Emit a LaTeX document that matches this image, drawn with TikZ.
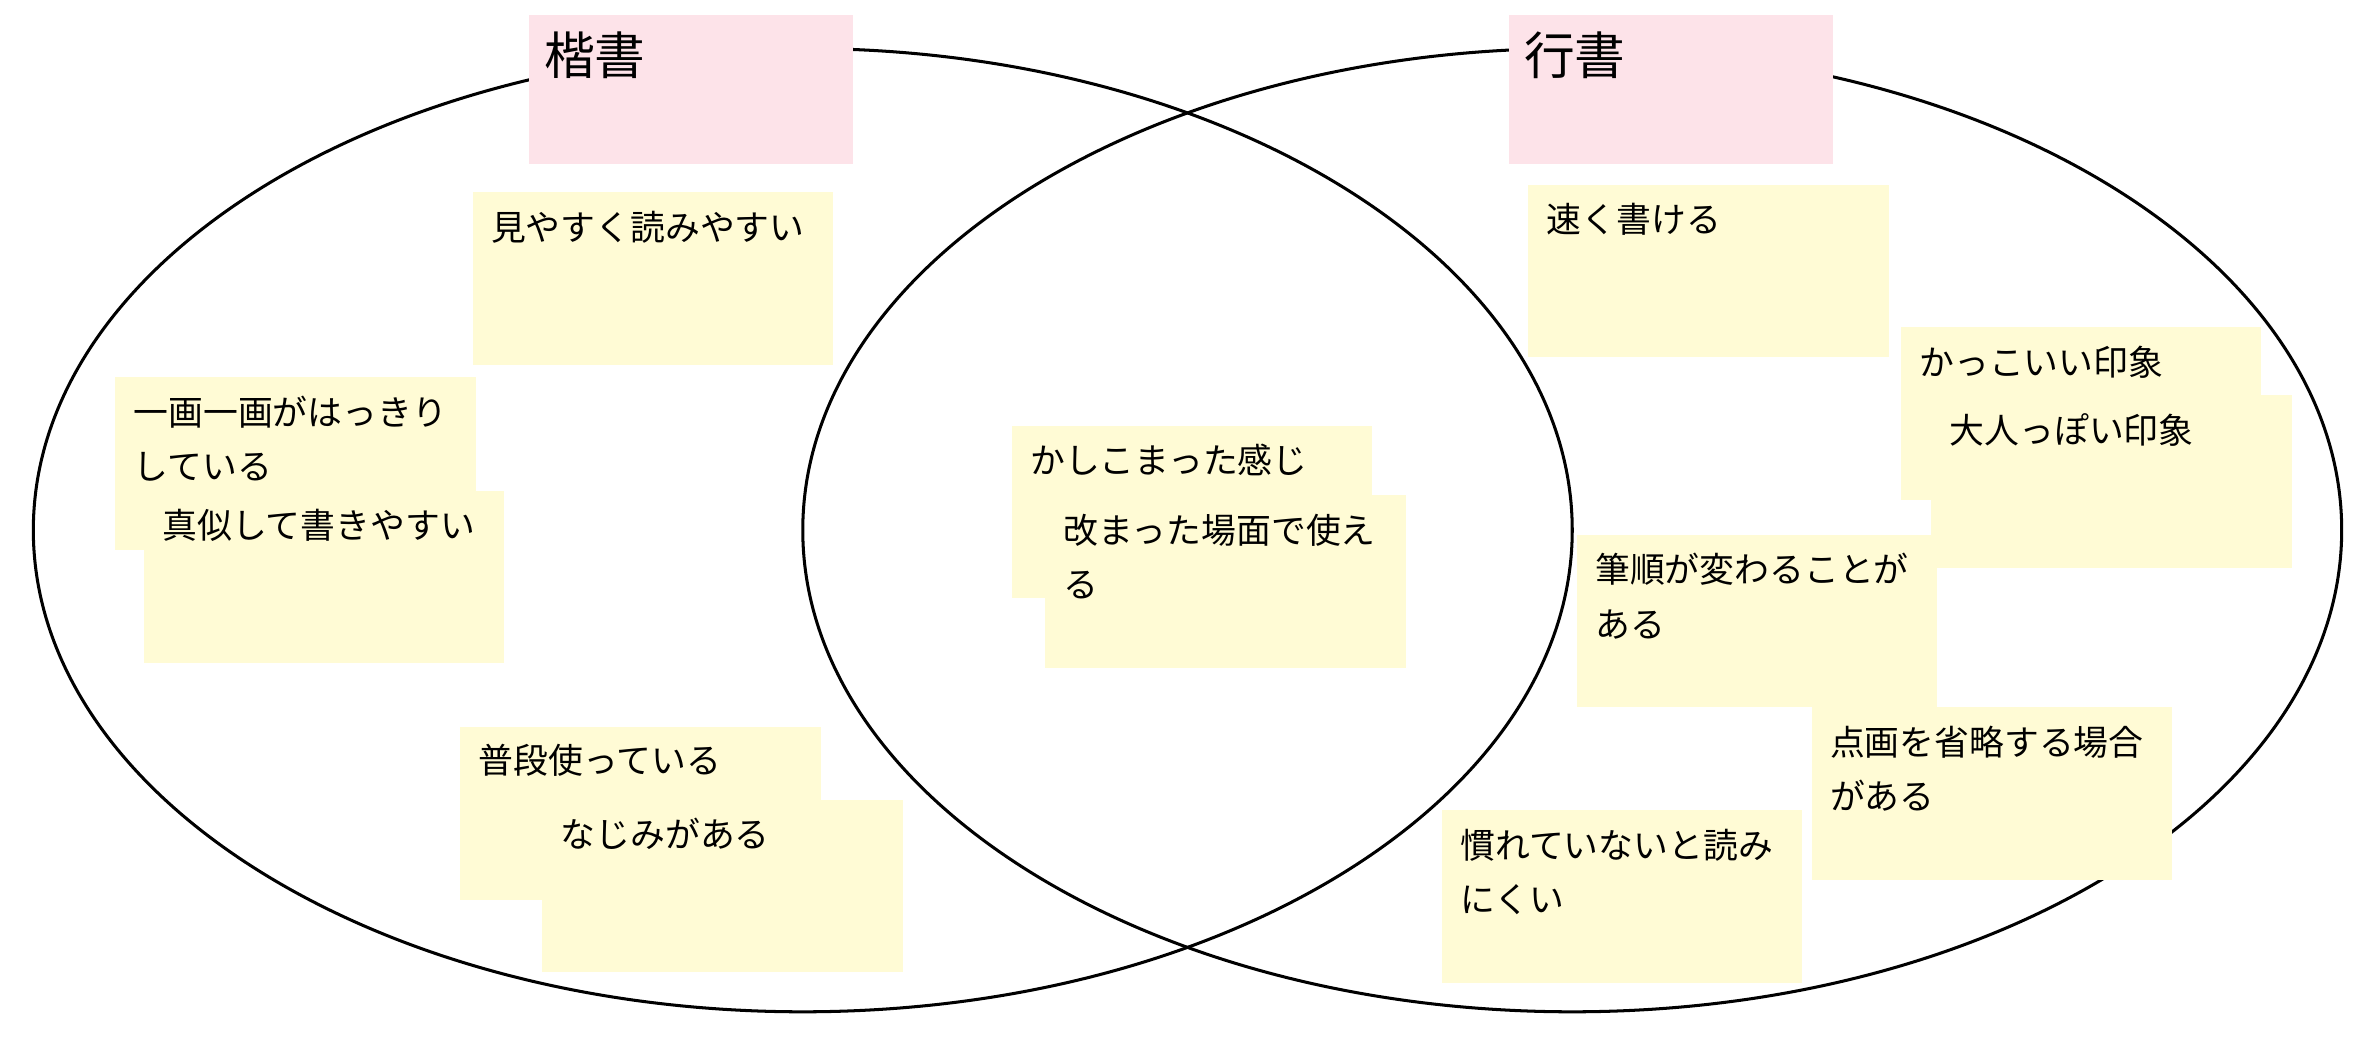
\documentclass[tikz,border=0pt]{standalone}
\usepackage{fontspec}
\newfontfamily\cjk{Noto Sans CJK JP}
\definecolor{pinkbox}{HTML}{FDE3E9}
\definecolor{note}{HTML}{FFFBD5}
\begin{document}
\begin{tikzpicture}[x=1pt,y=-1pt,
  notetext/.style={anchor=north west,inner sep=0pt,align=left,font=\cjk\fontsize{23}{36}\selectfont},
  titletext/.style={anchor=north west,inner sep=0pt,font=\cjk\fontsize{33.5}{38}\selectfont}]
\useasboundingbox (0,0) rectangle (1568,701);
\fill[white] (0,0) rectangle (1568,701);
\draw[line width=2pt] (530,350) ellipse [x radius=508,y radius=318];
\draw[line width=2pt] (1038,350) ellipse [x radius=508,y radius=318];
\fill[pinkbox] (349,10) rectangle (563,108);
\node[titletext] (t1) at (359,21) {楷書};
\fill[pinkbox] (996,10) rectangle (1210,108);
\node[titletext] (t2) at (1006,21) {行書};
\newcommand\notebox[2]{\fill[note] (#1,#2) rectangle ++(238,114);}
\notebox{312}{127}\node[notetext] (n1) at (324,139) {見やすく読みやすい};
\notebox{76}{249}\node[notetext] (n2) at (88,261) {一画一画がはっきり\\している};
\notebox{95}{324}\node[notetext] (n3) at (107,336) {真似して書きやすい};
\notebox{304}{480}\node[notetext] (n4) at (316,491) {普段使っている};
\notebox{358}{528}\node[notetext] (n5) at (370,540) {なじみがある};
\notebox{668}{281}\node[notetext] (n6) at (680,293) {かしこまった感じ};
\notebox{690}{327}\node[notetext] (n7) at (702,339) {改まった場面で使え\\る};
\notebox{1009}{122}\node[notetext] (n8) at (1021,134) {速く書ける};
\notebox{1255}{216}\node[notetext] (n9) at (1267,228) {かっこいい印象};
\notebox{1275}{261}\node[notetext] (n10) at (1287,273) {大人っぽい印象};
\notebox{1041}{353}\node[notetext] (n11) at (1053,365) {筆順が変わることが\\ある};
\notebox{1196}{467}\node[notetext] (n12) at (1208,479) {点画を省略する場合\\がある};
\notebox{952}{535}\node[notetext] (n13) at (964,547) {慣れていないと読み\\にくい};
\end{tikzpicture}
\end{document}
